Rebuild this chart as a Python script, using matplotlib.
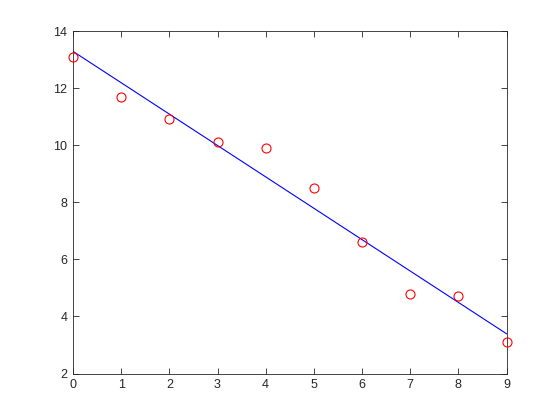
import numpy as np
import matplotlib
matplotlib.use("Agg")
import matplotlib.pyplot as plt

x = [0, 1, 2, 3, 4, 5, 6, 7, 8, 9]
y = [13.1, 11.7, 10.9, 10.1, 9.9, 8.5, 6.6, 4.8, 4.7, 3.1]
xticks = [0, 1, 2, 3, 4, 5, 6, 7, 8, 9]
yticks = [2, 4, 6, 8, 10, 12, 14]

plt.rcParams['font.family'] = ['Liberation Sans', 'DejaVu Sans']

fig = plt.figure(figsize=(5.6, 4.2), dpi=100)
ax = fig.add_axes([73/560, 1 - 373.5/420, (506.5-73)/560, (373.5-31)/420])

coef = np.polyfit(x, y, 1)
xa = np.array(x, dtype=float)
ax.plot(xa, np.polyval(coef, xa), color='#0000ff', lw=0.8)
ax.plot(x, y, 'o', mfc='none', mec='#ff0000', ms=6.5, mew=0.8, clip_on=False, zorder=3)

ax.set_xlim(0, 9)
ax.set_ylim(2, 14)
ax.set_xticks(xticks)
ax.set_yticks(yticks)
ax.tick_params(direction='in', top=True, right=True, length=4, width=0.6,
               labelsize=9, colors='#262626', pad=4)
for s in ax.spines.values():
    s.set_linewidth(0.6)
    s.set_color('#262626')

fig.savefig('out.png', dpi=100, facecolor='white')
